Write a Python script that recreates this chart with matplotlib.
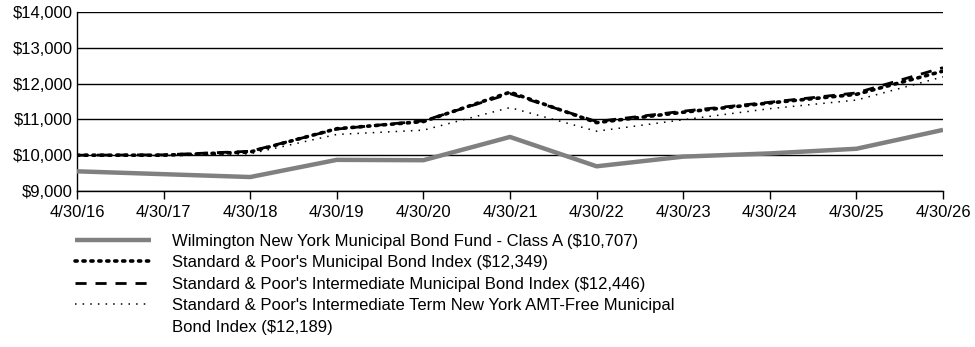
import matplotlib.pyplot as plt
from matplotlib.lines import Line2D
from matplotlib.ticker import FuncFormatter

plt.rcParams['font.family'] = ['Liberation Sans', 'DejaVu Sans']

# Annual dates (x positions are year index)
dates = ['4/30/16', '4/30/17', '4/30/18', '4/30/19', '4/30/20', '4/30/21',
         '4/30/22', '4/30/23', '4/30/24', '4/30/25', '4/30/26']

fund = [9550, 9470, 9390, 9870, 9860, 10510, 9690, 9960, 10050, 10180, 10707]
muni = [10000, 10000, 10090, 10740, 10940, 11760, 10910, 11200, 11460, 11700, 12349]
inter = [10000, 10010, 10110, 10730, 10960, 11720, 10940, 11230, 11480, 11740, 12446]
ny_amt = [10000, 9990, 10040, 10580, 10700, 11330, 10670, 10990, 11300, 11540, 12189]

labels = ["Wilmington New York Municipal Bond Fund - Class A ($10,707)",
          "Standard & Poor's Municipal Bond Index ($12,349)",
          "Standard & Poor's Intermediate Municipal Bond Index ($12,446)",
          "Standard & Poor's Intermediate Term New York AMT-Free Municipal",
          "Bond Index ($12,189)"]

x = list(range(len(dates)))

fig = plt.figure(figsize=(9.75, 3.47), dpi=100)
ax = fig.add_axes([77 / 975, 1 - 191 / 347, (943 - 77) / 975, (191 - 12) / 347])

# Lines
ax.plot(x, fund, color='#808080', lw=3.2, solid_capstyle='butt', zorder=3)
ax.plot(x, muni, color='black', lw=2.6, linestyle=(0, (0.6, 1.6)),
        dash_capstyle='round', zorder=4)
ax.plot(x, inter, color='black', lw=2.0, linestyle=(0, (4, 3.2)), zorder=4)
ax.plot(x, ny_amt, color='black', lw=1.1, linestyle=(0, (1, 4)), zorder=4)

ax.set_xlim(0, len(dates) - 1)
ax.set_ylim(9000, 14000)
ax.set_yticks(range(9000, 14001, 1000))
ax.yaxis.set_major_formatter(FuncFormatter(lambda v, p: f'${v:,.0f}'))
ax.set_xticks(x)
ax.set_xticklabels(dates)

ax.grid(axis='y', color='black', lw=1.0)
ax.set_axisbelow(True)
for s in ['top', 'right']:
    ax.spines[s].set_visible(False)
ax.spines['left'].set_linewidth(1.0)
ax.spines['bottom'].set_linewidth(1.0)
ax.tick_params(axis='x', direction='out', length=6, width=1, labelsize=12, pad=4)
ax.tick_params(axis='y', length=0, labelsize=12, pad=3)

# Legend below the chart
handles = [
    Line2D([], [], color='#808080', lw=3.2, solid_capstyle='butt'),
    Line2D([], [], color='black', lw=2.6, linestyle=(0, (0.6, 1.6)), dash_capstyle='round'),
    Line2D([], [], color='black', lw=2.0, linestyle=(0, (4, 3.2))),
    Line2D([], [], color='black', lw=1.1, linestyle=(0, (1, 4))),
    Line2D([], [], color='none'),
]
fig.legend(handles, labels, loc='upper left', bbox_to_anchor=(68 / 975, 1 - 227 / 347),
           frameon=False, fontsize=12, handlelength=4.6, handletextpad=1.25,
           labelspacing=0.39, borderaxespad=0)

fig.savefig('out.png', dpi=100)
